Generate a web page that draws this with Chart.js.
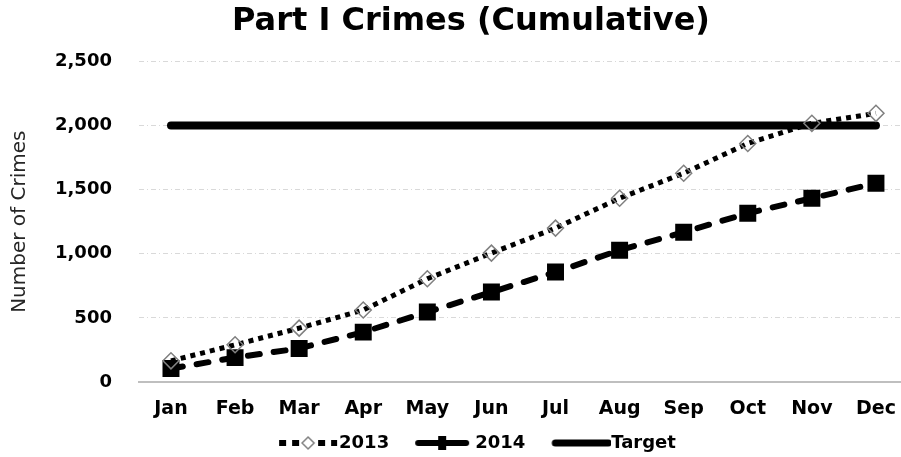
<!DOCTYPE html>
<html>
<head>
<meta charset="utf-8">
<title>Part I Crimes</title>
<script src="https://cdn.jsdelivr.net/npm/chart.js@4.4.1/dist/chart.umd.min.js"></script>
<style>
    html, body { margin: 0; padding: 0; background: #fff; overflow: hidden; }
    #wrap { width: 942px; height: 457px; }
</style>
</head>
<body>
<div id="wrap"><canvas id="crimesChart" width="942" height="457"></canvas></div>
<script>
// Cumulative Part I crime counts per month
const months = ['Jan', 'Feb', 'Mar', 'Apr', 'May', 'Jun', 'Jul', 'Aug', 'Sep', 'Oct', 'Nov', 'Dec'];
const crimes2013 = [165, 290, 420, 561, 805, 1005, 1200, 1433, 1628, 1860, 2017, 2095];
const crimes2014 = [105, 190, 262, 389, 545, 701, 857, 1028, 1168, 1316, 1433, 1550];
const target = [2000, 2000, 2000, 2000, 2000, 2000, 2000, 2000, 2000, 2000, 2000, 2000];
const yTicks = [0, 500, 1000, 1500, 2000, 2500];

const FONT = "'DejaVu Sans', Verdana, sans-serif";

// Legend swatches: a short line sample with its marker, drawn into a small canvas.
// The legend box is 64px wide; the canvas is centred on it (9px spill each side)
// and the sample is drawn from x=22 so it ends right before the label text.
const SW_W = 82, SW_H = 20;
function makeSwatch(kind) {
    const c = document.createElement('canvas');
    c.width = SW_W;
    c.height = SW_H;
    const g = c.getContext('2d');
    const y = 10;
    g.strokeStyle = '#000';
    if (kind === 'dot') {
        g.lineWidth = 6;
        g.setLineDash([7, 6]);
        g.beginPath(); g.moveTo(22, y); g.lineTo(80, y); g.stroke();
        g.setLineDash([]);
        g.fillStyle = '#fff';
        g.beginPath();
        g.moveTo(51, y - 6); g.lineTo(57, y); g.lineTo(51, y + 6); g.lineTo(45, y); g.closePath();
        g.fill();
        g.strokeStyle = '#808080';
        g.lineWidth = 1.5;
        g.stroke();
    } else if (kind === 'dash') {
        g.lineWidth = 6;
        g.lineCap = 'round';
        g.beginPath(); g.moveTo(25, y); g.lineTo(73, y); g.stroke();
        g.fillStyle = '#000';
        g.fillRect(45, y - 7, 8, 14);
    } else {
        g.lineWidth = 7;
        g.lineCap = 'round';
        g.beginPath(); g.moveTo(26, y); g.lineTo(79, y); g.stroke();
    }
    return c;
}
const swatches = [makeSwatch('dot'), makeSwatch('dash'), makeSwatch('solid')];

const ctx = document.getElementById('crimesChart').getContext('2d');
new Chart(ctx, {
    type: 'line',
    data: {
        labels: months,
        datasets: [
            {
                label: '2013',
                data: crimes2013,
                borderColor: '#000',
                borderWidth: 5,
                borderDash: [5, 5],
                tension: 0,
                pointStyle: 'rectRot',
                pointRadius: 8,
                pointBorderColor: '#808080',
                pointBorderWidth: 1.5,
                pointBackgroundColor: 'rgba(255,255,255,0)'
            },
            {
                label: '2014',
                data: crimes2014,
                borderColor: '#000',
                borderWidth: 6,
                borderDash: [12, 14],
                borderCapStyle: 'round',
                tension: 0,
                pointStyle: 'rect',
                pointRadius: 12,
                pointBorderWidth: 0,
                pointBackgroundColor: '#000'
            },
            {
                label: 'Target',
                data: target,
                borderColor: '#000',
                borderWidth: 8,
                borderCapStyle: 'round',
                tension: 0,
                pointRadius: 0
            }
        ]
    },
    options: {
        responsive: false,
        animation: false,
        devicePixelRatio: 1,
        layout: { padding: { left: 34, right: 34, top: 0, bottom: -5 } },
        plugins: {
            title: {
                display: true,
                text: 'Part I Crimes (Cumulative)',
                color: '#000',
                font: { family: FONT, size: 32, weight: 'bold' },
                padding: { top: 2, bottom: 21 }
            },
            legend: {
                position: 'bottom',
                labels: {
                    color: '#000',
                    font: { family: FONT, size: 18, weight: 'bold' },
                    usePointStyle: true,
                    pointStyleWidth: 64,
                    padding: 13,
                    generateLabels(chart) {
                        const items = Chart.defaults.plugins.legend.labels.generateLabels(chart);
                        items.forEach((it, i) => { it.pointStyle = swatches[i]; });
                        return items;
                    }
                }
            },
            tooltip: { enabled: false }
        },
        scales: {
            x: {
                offset: true,
                grid: { display: false, drawTicks: false },
                border: { display: true, color: '#bfbfbf', width: 2 },
                ticks: {
                    color: '#000',
                    padding: 16,
                    font: { family: FONT, size: 19, weight: 'bold' }
                },
                // just tall enough for the month labels, keeps the legend close
                afterFit(scale) { scale.height = 39; }
            },
            y: {
                min: 0,
                max: 2500,
                afterBuildTicks(axis) {
                    axis.ticks = yTicks.map(v => ({ value: v }));
                },
                grid: { color: '#d9d9d9', lineWidth: 1, drawTicks: false },
                border: { display: false, dash: [5, 3, 1, 3] },
                ticks: {
                    color: '#000',
                    padding: 27,
                    font: { family: FONT, size: 18, weight: 'bold' },
                    callback: v => v.toLocaleString('en-US')
                },
                title: {
                    display: true,
                    text: 'Number of Crimes',
                    color: '#262626',
                    font: { family: FONT, size: 20 },
                    padding: { top: -26, bottom: -4 }
                }
            }
        }
    }
});
</script>
</body>
</html>
